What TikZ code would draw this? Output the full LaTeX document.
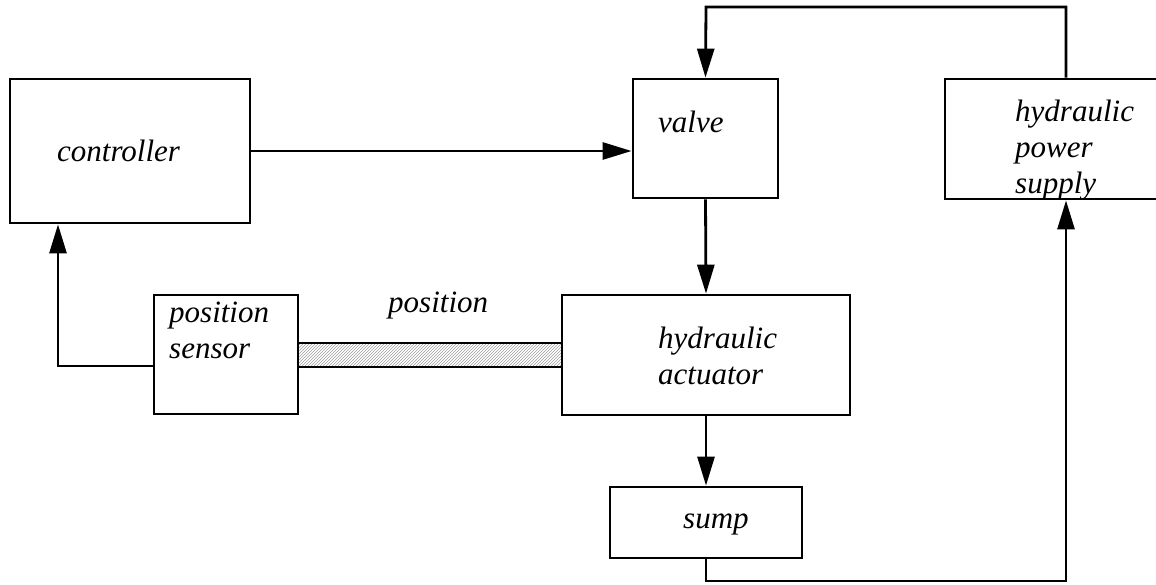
\documentclass[tikz,border=0pt]{standalone}
\usepackage{fontspec}
\setmainfont{Liberation Serif}
\usetikzlibrary{arrows.meta,patterns}
\begin{document}
\begin{tikzpicture}[x=1pt,y=-1pt,
  box/.style={draw,line width=2.8pt,rectangle,inner sep=0pt},
  lbl/.style={anchor=base west,inner sep=0pt,font=\fontsize{31}{36}\selectfont\itshape,align=left},
  wire/.style={line width=2.8pt},
  arr/.style={wire,-{Triangle[length=29pt,width=17pt]}}]
\useasboundingbox (0,0) rectangle (1156,584);
\clip (0,0) rectangle (1156,584);
% boxes
\node[box,minimum width=240pt,minimum height=144pt] (ctrl) at (130,151) {};
\node[box,minimum width=145pt,minimum height=119pt] (valve) at (705.5,138.5) {};
\node[box,minimum width=220pt,minimum height=120pt] (hps) at (1055,139) {};
\node[box,minimum width=144pt,minimum height=119pt] (sens) at (226,354.5) {};
\node[box,minimum width=288pt,minimum height=120pt] (act) at (706,355) {};
\node[box,minimum width=192pt,minimum height=71pt] (sump) at (706,522.5) {};
% hatched rod
\node[draw,line width=2.8pt,pattern=north east lines,pattern color=gray!75,inner sep=0pt,
  minimum width=264pt,minimum height=24pt] (rod) at (430,355) {};
% texts
\node[lbl] (tctrl) at (57,161) {controller};
\node[lbl] (tvalve) at (658,132) {valve};
\node[lbl] (thps) at (1015,193) {hydraulic\\power\\supply};
\node[lbl] (tsens) at (169,358) {position\\sensor};
\node[lbl] (tact) at (658,384) {hydraulic\\actuator};
\node[lbl] (tsump) at (683,528) {sump};
\node[lbl] (tpos) at (388,312) {position};
% connectors
\coordinate (c1) at (58,366);
\coordinate (c2) at (706,7);
\coordinate (c3) at (1066,7);
\coordinate (c4) at (706,581);
\coordinate (c5) at (1066,581);
\draw[arr] (ctrl.east |- 0,151) -- (valve.west |- 0,151);
\draw[arr] (valve.south) -- (act.north);
\draw[arr] (act.south) -- (sump.north);
\draw[arr] (sens.west |- c1) -- (c1) -- (ctrl.south -| c1);
\draw[arr] (hps.north -| c3) -- (c3) -- (c2) -- (valve.north);
\draw[arr] (sump.south) -- (c4) -- (c5) -- (hps.south -| c5);
\end{tikzpicture}
\end{document}
